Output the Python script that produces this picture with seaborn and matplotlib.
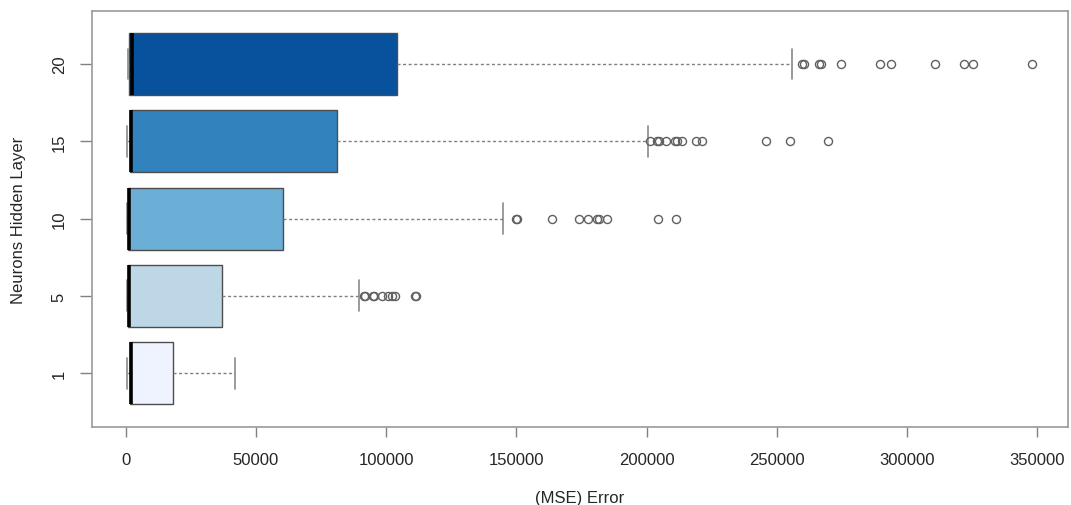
import matplotlib
matplotlib.use("Agg")
import matplotlib.pyplot as plt
import pandas as pd
import seaborn as sns

# Number of neurons in the hidden layer (top to bottom)
layers = ["20", "15", "10", "5", "1"]

# Five-number summaries of the MSE per network size
lower_whisker = [700, 500, 400, 400, 400]
first_quartile = [1400, 1500, 1000, 1000, 1500]
medians = [2400, 2000, 1300, 1300, 2000]
third_quartile = [104000, 81200, 60500, 37000, 18300]
upper_whisker = [255800, 200600, 145000, 89700, 42000]

# Runs falling beyond 1.5 IQR
outliers_20 = [259600, 260300, 266100, 267100, 274600, 289700, 293800,
               310700, 321900, 325400, 348000]
outliers_15 = [201300, 204000, 204700, 207500, 210900, 211800, 213600,
               219100, 221200, 245900, 255000, 269600]
outliers_10 = [150000, 150300, 163500, 174000, 177600, 180800, 181700,
               184900, 204500, 211300]
outliers_5 = [91400, 91800, 95100, 95400, 98300, 100800, 102100, 103400,
              111000, 111300]
outliers_1 = []
outliers = [outliers_20, outliers_15, outliers_10, outliers_5, outliers_1]

x_ticks = [0, 50000, 100000, 150000, 200000, 250000, 300000, 350000]
box_colors = ["#08519C", "#3182BD", "#6BAED6", "#BDD7E7", "#EFF3FF"]


def observations(lo, q1, med, q3, hi, extra):
    """4k+1 observations whose linear-interpolated quartiles are q1/med/q3."""
    k = len(extra) + 1
    return [lo] + [q1] * k + [med] * k + [q3] * k + sorted([hi] + list(extra))


rows = []
for name, lo, q1, med, q3, hi, extra in zip(layers, lower_whisker, first_quartile,
                                              medians, third_quartile,
                                              upper_whisker, outliers):
    for v in observations(lo, q1, med, q3, hi, extra):
        rows.append({"layer": name, "mse": v})
df = pd.DataFrame(rows)

sns.set_style("ticks")
plt.rcParams["font.family"] = ["Liberation Sans", "DejaVu Sans"]

fig, ax = plt.subplots(figsize=(10.71, 5.06), dpi=100)
fig.subplots_adjust(left=91.7 / 1071, right=1067.7 / 1071,
                    top=1 - 12.3 / 506, bottom=1 - 427.7 / 506)

sns.boxplot(
    data=df, x="mse", y="layer", order=layers,
    hue="layer", hue_order=layers, palette=dict(zip(layers, box_colors)),
    saturation=1, legend=False, dodge=False, width=0.8, whis=1.5,
    linecolor="#4d4d4d", linewidth=1.0, fliersize=5.8,
    flierprops=dict(marker="o", markerfacecolor="none",
                    markeredgecolor="#606060", markeredgewidth=1.0),
    medianprops=dict(color="black", linewidth=2.6),
    whiskerprops=dict(color="#808080", linestyle=(0, (2.2, 1.8)), linewidth=1.0),
    capprops=dict(color="#8a8a8a", linewidth=1.2),
    ax=ax,
)

ax.set_xlim(-13050, 361650)
ax.set_ylim(4.692, -0.682)
ax.set_xticks(x_ticks)
ax.set_xticklabels([str(v) for v in x_ticks])

text_color = "#262626"
for side in ["left", "right", "top", "bottom"]:
    ax.spines[side].set_visible(True)
    ax.spines[side].set_color("#9a9a9a")
    ax.spines[side].set_linewidth(1.2)

ax.tick_params(axis="x", length=7.5, width=1, color="#808080", pad=11,
               labelsize=12, labelcolor=text_color)
ax.tick_params(axis="y", length=9, width=1, color="#808080", pad=9,
               labelsize=12, labelcolor=text_color, labelrotation=90)
for lab in ax.get_yticklabels():
    lab.set_va("center")

ax.set_xlabel("(MSE) Error", fontsize=12, color=text_color)
ax.set_ylabel("Neurons Hidden Layer", fontsize=12, color=text_color)
ax.xaxis.label.set_va("center")
ax.xaxis.set_label_coords(0.5, (427.7 - 498) / 415.4)
ax.yaxis.label.set_va("center")
ax.yaxis.set_label_coords((18.5 - 91.7) / 976.0, 0.5)

fig.savefig("out.png", dpi=100)
